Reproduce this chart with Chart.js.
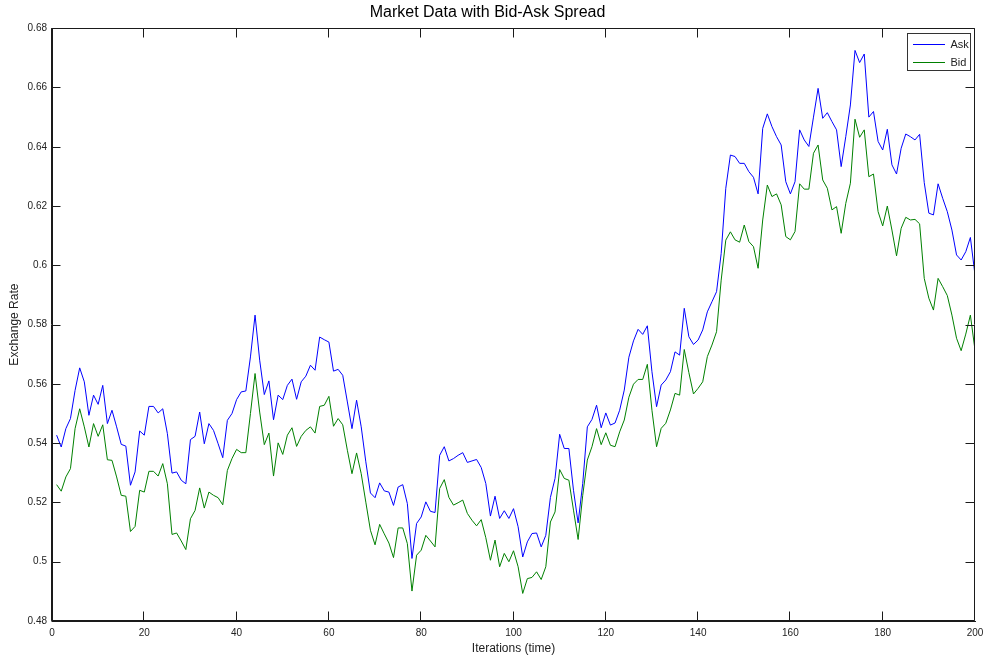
<!DOCTYPE html>
<html>
<head>
<meta charset="utf-8">
<script src="https://cdn.jsdelivr.net/npm/chart.js@4.4.1/dist/chart.umd.min.js"></script>
<style>
  html, body { margin: 0; padding: 0; background: #ffffff; }
  #wrap { width: 983px; height: 657px; }
</style>
</head>
<body>
<div id="wrap"><canvas id="c" width="983" height="657"></canvas></div>
<script>
// ---- Data ----
const chartTitle = 'Market Data with Bid-Ask Spread';
const xAxisTitle = 'Iterations (time)';
const yAxisTitle = 'Exchange Rate';
const seriesNames = ['Ask', 'Bid'];

const iterations = Array.from({length: 200}, (_, k) => k + 1);

const askRates = [
  0.5427, 0.5387, 0.5449, 0.5483, 0.5578, 0.5654, 0.5607, 0.5494, 0.5562, 0.5531,
  0.5595, 0.5466, 0.5511, 0.5455, 0.5396, 0.5390, 0.5258, 0.5303, 0.5441, 0.5427,
  0.5524, 0.5524, 0.5502, 0.5516, 0.5432, 0.5299, 0.5303, 0.5275, 0.5263, 0.5412,
  0.5423, 0.5505, 0.5398, 0.5466, 0.5443, 0.5398, 0.5351, 0.5477, 0.5500, 0.5547,
  0.5573, 0.5576, 0.5691, 0.5832, 0.5680, 0.5564, 0.5610, 0.5479, 0.5562, 0.5547,
  0.5595, 0.5616, 0.5548, 0.5607, 0.5626, 0.5663, 0.5646, 0.5758, 0.5749, 0.5741,
  0.5643, 0.5649, 0.5629, 0.5539, 0.5449, 0.5545, 0.5455, 0.5337, 0.5232, 0.5216,
  0.5266, 0.5239, 0.5235, 0.5190, 0.5252, 0.5260, 0.5196, 0.5011, 0.5129, 0.5151,
  0.5202, 0.5170, 0.5166, 0.5359, 0.5388, 0.5340, 0.5348, 0.5359, 0.5368, 0.5335,
  0.5340, 0.5345, 0.5318, 0.5264, 0.5154, 0.5221, 0.5146, 0.5172, 0.5146, 0.5179,
  0.5118, 0.5016, 0.5067, 0.5095, 0.5097, 0.5050, 0.5089, 0.5217, 0.5281, 0.5430,
  0.5382, 0.5382, 0.5241, 0.5131, 0.5264, 0.5455, 0.5480, 0.5528, 0.5452, 0.5502,
  0.5461, 0.5468, 0.5511, 0.5579, 0.5690, 0.5745, 0.5784, 0.5767, 0.5796, 0.5641,
  0.5523, 0.5596, 0.5613, 0.5641, 0.5708, 0.5697, 0.5855, 0.5759, 0.5733, 0.5748,
  0.5782, 0.5843, 0.5877, 0.5911, 0.6040, 0.6260, 0.6372, 0.6367, 0.6344, 0.6344,
  0.6316, 0.6297, 0.6241, 0.6462, 0.6511, 0.6468, 0.6434, 0.6406, 0.6282, 0.6241,
  0.6282, 0.6457, 0.6423, 0.6401, 0.6500, 0.6597, 0.6496, 0.6515, 0.6485, 0.6457,
  0.6333, 0.6434, 0.6541, 0.6725, 0.6684, 0.6713, 0.6500, 0.6519, 0.6418, 0.6389,
  0.6459, 0.6339, 0.6308, 0.6395, 0.6443, 0.6434, 0.6423, 0.6442, 0.6279, 0.6176,
  0.6170, 0.6275, 0.6226, 0.6181, 0.6119, 0.6035, 0.6018, 0.6046, 0.6094, 0.5967
];

const bidRates = [
  0.5260, 0.5238, 0.5286, 0.5314, 0.5449, 0.5516, 0.5455, 0.5387, 0.5466, 0.5423,
  0.5462, 0.5344, 0.5342, 0.5286, 0.5224, 0.5221, 0.5102, 0.5119, 0.5241, 0.5235,
  0.5305, 0.5305, 0.5289, 0.5331, 0.5263, 0.5092, 0.5097, 0.5070, 0.5041, 0.5145,
  0.5173, 0.5249, 0.5181, 0.5235, 0.5224, 0.5216, 0.5192, 0.5308, 0.5348, 0.5379,
  0.5368, 0.5368, 0.5500, 0.5635, 0.5505, 0.5395, 0.5434, 0.5289, 0.5401, 0.5362,
  0.5427, 0.5452, 0.5389, 0.5423, 0.5443, 0.5455, 0.5434, 0.5524, 0.5528, 0.5558,
  0.5457, 0.5483, 0.5462, 0.5376, 0.5297, 0.5367, 0.5297, 0.5201, 0.5106, 0.5057,
  0.5126, 0.5094, 0.5063, 0.5014, 0.5114, 0.5114, 0.5061, 0.4901, 0.5022, 0.5039,
  0.5089, 0.5070, 0.5050, 0.5247, 0.5277, 0.5217, 0.5191, 0.5199, 0.5208, 0.5163,
  0.5140, 0.5121, 0.5142, 0.5081, 0.5005, 0.5073, 0.4983, 0.5028, 0.5000, 0.5037,
  0.4983, 0.4893, 0.4943, 0.4947, 0.4966, 0.4940, 0.4983, 0.5134, 0.5168, 0.5311,
  0.5281, 0.5275, 0.5174, 0.5075, 0.5224, 0.5343, 0.5388, 0.5449, 0.5395, 0.5435,
  0.5393, 0.5388, 0.5438, 0.5478, 0.5555, 0.5599, 0.5615, 0.5615, 0.5666, 0.5511,
  0.5388, 0.5450, 0.5467, 0.5512, 0.5568, 0.5562, 0.5716, 0.5638, 0.5566, 0.5585,
  0.5607, 0.5692, 0.5731, 0.5776, 0.5950, 0.6085, 0.6113, 0.6086, 0.6078, 0.6136,
  0.6080, 0.6063, 0.5990, 0.6153, 0.6271, 0.6232, 0.6241, 0.6204, 0.6097, 0.6086,
  0.6114, 0.6275, 0.6257, 0.6257, 0.6378, 0.6406, 0.6288, 0.6260, 0.6187, 0.6198,
  0.6108, 0.6209, 0.6277, 0.6493, 0.6432, 0.6457, 0.6299, 0.6308, 0.6181, 0.6133,
  0.6200, 0.6119, 0.6032, 0.6125, 0.6162, 0.6153, 0.6155, 0.6140, 0.5956, 0.5889,
  0.5849, 0.5956, 0.5928, 0.5898, 0.5832, 0.5754, 0.5712, 0.5768, 0.5832, 0.5714
];

const xTickValues = [0, 20, 40, 60, 80, 100, 120, 140, 160, 180, 200];
const yTickLabels = ['0.48', '0.5', '0.52', '0.54', '0.56', '0.58', '0.6', '0.62', '0.64', '0.66', '0.68'];

// ---- Chart ----
const FONT = "'Liberation Sans', Arial, Helvetica, sans-serif";
const AXIS_COLOR = '#1a1a1a';
const TEXT_COLOR = '#222222';
const TICK_LEN = 9;

const xMin = xTickValues[0], xMax = xTickValues[xTickValues.length - 1];
const yMin = parseFloat(yTickLabels[0]), yMax = parseFloat(yTickLabels[yTickLabels.length - 1]);

const boxPlugin = {
  id: 'matlabBox',
  afterLayout(chart) {
    const lg = chart.legend;
    if (lg) {
      lg.left = 906; lg.right = 972; lg.top = 32; lg.bottom = chart.chartArea.bottom;
      lg.width = lg.right - lg.left; lg.height = lg.bottom - lg.top;
    }
  },
  afterDraw(chart) {
    const {ctx, chartArea: a, scales: {x, y}} = chart;
    ctx.save();
    ctx.strokeStyle = AXIS_COLOR;
    ctx.lineWidth = 1;
    const L = Math.round(a.left) - 0.5, R = Math.round(a.right) - 0.5;
    const T = Math.round(a.top) + 0.5, B = Math.round(a.bottom) - 0.5;
    ctx.beginPath();
    ctx.moveTo(L, T); ctx.lineTo(R, T); ctx.lineTo(R, B);
    ctx.moveTo(L, T); ctx.lineTo(L, B); ctx.lineTo(R, B);
    // inward ticks
    x.ticks.forEach(t => {
      const px = Math.round(x.getPixelForValue(t.value)) - 0.5;
      ctx.moveTo(px, B); ctx.lineTo(px, B - TICK_LEN);
      ctx.moveTo(px, T); ctx.lineTo(px, T + TICK_LEN);
    });
    y.ticks.forEach(t => {
      const py = Math.round(y.getPixelForValue(t.value)) + 0.5;
      ctx.moveTo(L, py); ctx.lineTo(L + TICK_LEN, py);
      ctx.moveTo(R, py); ctx.lineTo(R - TICK_LEN, py);
    });
    ctx.stroke();
    // legend frame
    const lg = chart.legend;
    if (lg) {
      ctx.strokeStyle = '#333333';
      ctx.strokeRect(907.5, 33.5, 63, 37);
    }
    ctx.restore();
  }
};

const ctx = document.getElementById('c').getContext('2d');
new Chart(ctx, {
  type: 'line',
  data: {
    datasets: [
      {
        label: seriesNames[0],
        data: iterations.map((it, k) => ({x: it, y: askRates[k]})),
        borderColor: '#0000ff',
        backgroundColor: '#0000ff',
        borderWidth: 1,
        pointRadius: 0,
        tension: 0,
        fill: false
      },
      {
        label: seriesNames[1],
        data: iterations.map((it, k) => ({x: it, y: bidRates[k]})),
        borderColor: '#008000',
        backgroundColor: '#008000',
        borderWidth: 1,
        pointRadius: 0,
        tension: 0,
        fill: false
      }
    ]
  },
  options: {
    responsive: false,
    devicePixelRatio: 1,
    animation: false,
    layout: { padding: { left: 0, right: 8, top: 0, bottom: 0 } },
    plugins: {
      title: {
        display: true,
        text: chartTitle,
        color: '#000000',
        font: { family: FONT, size: 16, weight: 'normal' },
        padding: { top: 3, bottom: 6 }
      },
      legend: {
        display: true,
        position: 'chartArea',
        align: 'start',
        labels: {
          usePointStyle: true,
          pointStyle: 'line',
          pointStyleWidth: 32,
          boxHeight: 11,
          padding: 7,
          color: TEXT_COLOR,
          font: { family: FONT, size: 11 }
        }
      },
      tooltip: { enabled: false }
    },
    scales: {
      x: {
        type: 'linear',
        min: xMin,
        max: xMax,
        afterBuildTicks: (scale) => { scale.ticks = xTickValues.map(v => ({value: v})); },
        afterFit: (scale) => { scale.height = 36; scale.paddingLeft = 0; scale.paddingRight = 0; },
        grid: { display: true, drawOnChartArea: false, drawTicks: false },
        border: { display: true, color: AXIS_COLOR, width: 1 },
        ticks: {
          padding: 6,
          color: TEXT_COLOR,
          font: { family: FONT, size: 10 },
          maxRotation: 0,
          autoSkip: false,
          callback: (v) => String(v)
        },
        title: {
          display: true,
          text: xAxisTitle,
          color: TEXT_COLOR,
          font: { family: FONT, size: 12 },
          padding: { top: 0, bottom: 1 }
        }
      },
      y: {
        type: 'linear',
        min: yMin,
        max: yMax,
        afterBuildTicks: (scale) => { scale.ticks = yTickLabels.map(l => ({value: parseFloat(l)})); },
        afterFit: (scale) => { scale.width = 52; scale.paddingTop = 0; scale.paddingBottom = 0; },
        grid: { display: true, drawOnChartArea: false, drawTicks: false },
        border: { display: true, color: AXIS_COLOR, width: 1 },
        ticks: {
          padding: 5,
          color: TEXT_COLOR,
          font: { family: FONT, size: 10 },
          autoSkip: false,
          callback: (v) => {
            const m = yTickLabels.find(l => Math.abs(parseFloat(l) - v) < 1e-6);
            return m !== undefined ? m : String(v);
          }
        },
        title: {
          display: true,
          text: yAxisTitle,
          color: TEXT_COLOR,
          font: { family: FONT, size: 12 },
          padding: { top: 7, bottom: 0 }
        }
      }
    }
  },
  plugins: [boxPlugin]
});
</script>
</body>
</html>
